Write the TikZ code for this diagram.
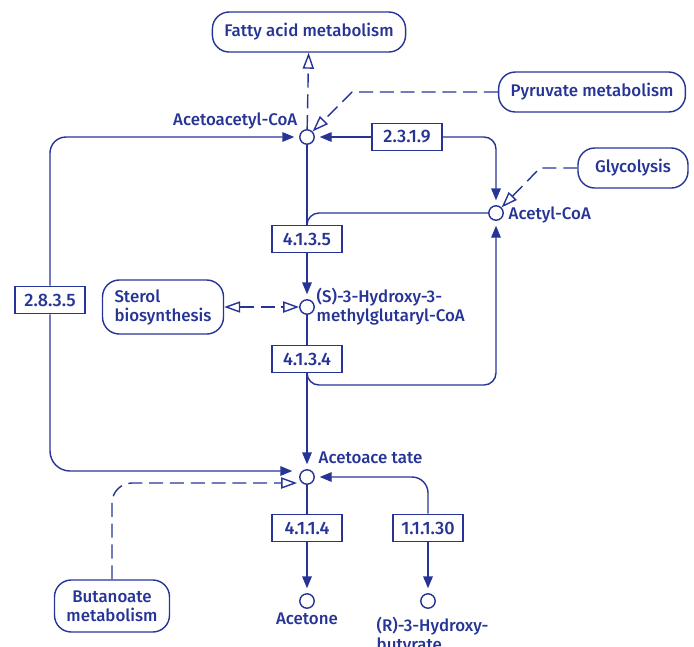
\documentclass[tikz,border=0pt]{standalone}
\usepackage{fontspec}
\setmainfont{Fira Sans}[UprightFont={* Medium}]
\usetikzlibrary{arrows.meta}
\definecolor{keggblue}{RGB}{38,52,150}

\tikzset{
  cpd/.style={circle,draw,fill=white,minimum size=0.36cm,inner sep=0pt},
  enz/.style={rectangle,draw,fill=white,minimum width=1.75cm,minimum height=0.68cm,inner sep=0pt,
    font=\fontsize{12.8}{14}\selectfont},
  pathmap/.style={rectangle,draw,rounded corners=0.42cm,minimum height=1cm,inner xsep=0.3cm},
  cpdname/.style={inner sep=0pt,align=left},
  rxn/.style={-{Triangle[length=0.3cm,width=0.24cm]},shorten >=0.12cm},
  maplink/.style={dash pattern=on 0.35cm off 0.17cm,-{Triangle[open,length=0.4cm,width=0.28cm]}},
}

\begin{document}
\begin{tikzpicture}[x=0.025cm,y=-0.025cm,line width=1pt,color=keggblue,
    font=\fontsize{12}{13.5}\selectfont]
  \useasboundingbox (0,0) rectangle (694,646);

  % Pathway maps
  \node[pathmap,minimum width=4.8cm] (fatty) at (309,32) {Fatty acid metabolism};
  \node[pathmap,minimum width=4.65cm] (pyruvate) at (592,92) {Pyruvate metabolism};
  \node[pathmap,minimum width=2.75cm] (glycolysis) at (633,168) {Glycolysis};
  \node[pathmap,minimum width=2.95cm,minimum height=1.35cm,align=left] (sterol) at (163,307) {Sterol\\biosynthesis};
  \node[pathmap,minimum width=2.85cm,minimum height=1.3cm,align=center] (butanoate) at (112,606) {Butanoate\\metabolism};

  % Compounds
  \node[cpd] (acacoa) at (307,137) {};
  \node[cpd] (accoa) at (496,213) {};
  \node[cpd] (hmg) at (307,307) {};
  \node[cpd] (acac) at (307,477) {};
  \node[cpd] (acetone) at (307,601) {};
  \node[cpd] (hbut) at (428,601) {};

  % Compound names
  \node[cpdname,anchor=base east] (acacoa-name) at (298,125) {Acetoacetyl-CoA};
  \node[cpdname,anchor=base west] (accoa-name) at (508,219) {Acetyl-CoA};
  \node[cpdname,anchor=west] (hmg-name) at (316,307) {(S)-3-Hydroxy-3-\\methylglutaryl-CoA};
  \node[cpdname,anchor=base west] (acac-name) at (318,463) {Acetoace tate};
  \node[cpdname,anchor=base] (acetone-name) at (307,624) {Acetone};
  \node[cpdname,anchor=north west] (hbut-name) at (376,616) {(R)-3-Hydroxy-\\butyrate};

  % Enzymes
  \node[enz] (e23119) at (407,137) {2.3.1.9};
  \node[enz] (e4135) at (307,239) {4.1.3.5};
  \node[enz] (e4134) at (307,359) {4.1.3.4};
  \node[enz] (e2835) at (50,300) {2.8.3.5};
  \node[enz] (e4114) at (307,528) {4.1.1.4};
  \node[enz] (e11130) at (428,528) {1.1.1.30};

  % Main column
  \draw (acacoa) -- (e4135);
  \draw[rxn] (e4135) -- (hmg);
  \draw (hmg) -- (e4134);
  \draw[rxn] (e4134) -- (acac);
  \draw (acac) -- (e4114);
  \draw[rxn] (e4114) -- (acetone);

  % Acetyl-CoA loops
  \draw[rxn] (e23119) -- (acacoa);
  \draw[rxn,rounded corners=0.3cm] (e23119.east) -| (accoa.north);
  \draw[rounded corners=0.3cm] (accoa.west) -| (e4135.north);
  \draw[rxn,rounded corners=0.3cm] (e4134.south) |- (350,385) -| (accoa.south);

  % 2.8.3.5 both ways
  \draw[rxn,rounded corners=0.4cm] (e2835.north) |- (acacoa);
  \draw[rxn,rounded corners=0.5cm] (e2835.south) |- ([xshift=-0.05cm,yshift=0.15cm]acac.west);

  % 1.1.1.30
  \draw[rxn,rounded corners=0.4cm] (e11130.north) |- (acac);
  \draw[rxn] (e11130) -- (hbut);

  % Links to other maps
  \coordinate (pyr-bend) at (352,92);
  \coordinate (gly-bend) at (540,168);
  \draw[maplink] (acacoa) -- (fatty);
  \draw[maplink] (pyruvate.west) -- (pyr-bend) -- (acacoa.north east);
  \draw[maplink] (glycolysis.west) -- (gly-bend) -- (accoa.north east);
  \draw[maplink,<->,>={Triangle[open,length=0.4cm,width=0.28cm]}] (sterol) -- (hmg);
  \draw[maplink,rounded corners=0.5cm] (butanoate.north) |- ([xshift=-0.05cm,yshift=-0.15cm]acac.west);
\end{tikzpicture}
\end{document}
